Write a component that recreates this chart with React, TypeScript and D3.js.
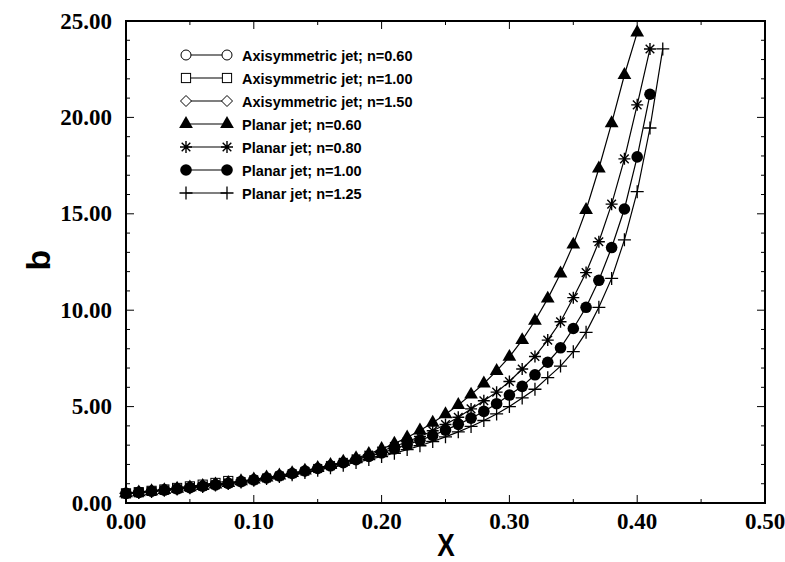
import React from 'react';
import * as d3 from 'd3';

// Axis ticks
const xMajorTicks = [0, 0.1, 0.2, 0.3, 0.4, 0.5];
const yMajorTicks = [0, 5, 10, 15, 20, 25];
const xMinorTicks = [0.05, 0.15, 0.25, 0.35, 0.45];
const yMinorTicks = [1, 2, 3, 4, 6, 7, 8, 9, 11, 12, 13, 14, 16, 17, 18, 19, 21, 22, 23, 24];

// Values of b sampled every 0.01 in X, starting at X = 0
const axi060 = [0.50, 0.56, 0.62, 0.69, 0.76, 0.84, 0.92, 1.01];
const axi100 = [0.50, 0.56, 0.63, 0.70, 0.78, 0.86, 0.95, 1.04, 1.14];
const axi150 = [0.50, 0.56, 0.62, 0.69, 0.77, 0.85, 0.93, 1.02];

const planar060 = [
  0.50, 0.55, 0.61, 0.67, 0.74, 0.81, 0.88, 0.96, 1.04, 1.13,
  1.22, 1.32, 1.43, 1.55, 1.68, 1.82, 1.97, 2.14, 2.32, 2.55,
  2.80, 3.08, 3.40, 3.76, 4.16, 4.60, 5.08, 5.62, 6.20, 6.85,
  7.58, 8.45, 9.45, 10.60, 11.90, 13.40, 15.20, 17.35, 19.70, 22.20,
  24.40,
];
const planar080 = [
  0.50, 0.55, 0.61, 0.67, 0.73, 0.80, 0.87, 0.95, 1.03, 1.11,
  1.20, 1.30, 1.40, 1.52, 1.65, 1.79, 1.94, 2.11, 2.29, 2.49,
  2.70, 2.93, 3.18, 3.45, 3.75, 4.07, 4.45, 4.88, 5.30, 5.75,
  6.30, 6.95, 7.60, 8.45, 9.40, 10.65, 11.95, 13.55, 15.50, 17.85,
  20.65, 23.55,
];
const planar100 = [
  0.50, 0.55, 0.61, 0.67, 0.73, 0.80, 0.87, 0.94, 1.02, 1.11,
  1.20, 1.30, 1.41, 1.53, 1.66, 1.79, 1.93, 2.09, 2.25, 2.42,
  2.60, 2.80, 3.02, 3.25, 3.50, 3.78, 4.08, 4.40, 4.75, 5.15,
  5.60, 6.05, 6.65, 7.30, 8.05, 9.05, 10.15, 11.55, 13.25, 15.25,
  17.95, 21.20,
];
const planar125 = [
  0.50, 0.55, 0.60, 0.66, 0.72, 0.79, 0.86, 0.93, 1.01, 1.09,
  1.18, 1.27, 1.37, 1.47, 1.58, 1.70, 1.83, 1.96, 2.10, 2.25,
  2.41, 2.58, 2.77, 2.97, 3.19, 3.43, 3.69, 3.97, 4.28, 4.62,
  5.00, 5.45, 5.90, 6.50, 7.10, 7.85, 8.85, 10.15, 11.65, 13.65,
  16.15, 19.45, 23.55,
];

const legendLabels = [
  'Axisymmetric jet; n=0.60',
  'Axisymmetric jet; n=1.00',
  'Axisymmetric jet; n=1.50',
  'Planar jet; n=0.60',
  'Planar jet; n=0.80',
  'Planar jet; n=1.00',
  'Planar jet; n=1.25',
];

type MarkerKind = 'openCircle' | 'openSquare' | 'openDiamond' | 'triangle' | 'asterisk' | 'dot' | 'plus';

const series: { values: number[]; marker: MarkerKind; label: string }[] = [
  { values: axi060, marker: 'openCircle', label: legendLabels[0] },
  { values: axi100, marker: 'openSquare', label: legendLabels[1] },
  { values: axi150, marker: 'openDiamond', label: legendLabels[2] },
  { values: planar060, marker: 'triangle', label: legendLabels[3] },
  { values: planar080, marker: 'asterisk', label: legendLabels[4] },
  { values: planar100, marker: 'dot', label: legendLabels[5] },
  { values: planar125, marker: 'plus', label: legendLabels[6] },
];

const X_STEP = 0.01;

const W = 785;
const H = 562;
const left = 126;
const right = 765;
const top = 21;
const bottom = 503;

const x = d3.scaleLinear().domain([0, 0.5]).range([left, right]);
const y = d3.scaleLinear().domain([0, 25]).range([bottom, top]);

const line = d3
  .line<[number, number]>()
  .x((d) => x(d[0]))
  .y((d) => y(d[1]));

const symPath = (type: d3.SymbolType, size: number) => d3.symbol().type(type).size(size)() as string;

function Marker({ kind, cx, cy }: { kind: MarkerKind; cx: number; cy: number }) {
  const t = `translate(${cx},${cy})`;
  switch (kind) {
    case 'openCircle':
      return <circle cx={cx} cy={cy} r={5} fill="#fff" stroke="#000" strokeWidth={1} />;
    case 'openSquare':
      return <rect x={cx - 4.6} y={cy - 4.6} width={9.2} height={9.2} fill="#fff" stroke="#000" strokeWidth={1} />;
    case 'openDiamond':
      return <path transform={t} d="M0,-5.5L5.5,0L0,5.5L-5.5,0Z" fill="#fff" stroke="#000" strokeWidth={1} />;
    case 'triangle':
      return <path transform={t} d={symPath(d3.symbolTriangle, 82)} fill="#000" />;
    case 'dot':
      return <circle cx={cx} cy={cy} r={5.8} fill="#000" />;
    case 'asterisk':
      return (
        <path
          transform={t}
          d="M0,-6V6M-6,0H6M-4.3,-4.3L4.3,4.3M-4.3,4.3L4.3,-4.3"
          stroke="#000"
          strokeWidth={1.4}
          fill="none"
        />
      );
    case 'plus':
      return <path transform={t} d="M0,-6.5V6.5M-6.5,0H6.5" stroke="#000" strokeWidth={1.3} fill="none" />;
  }
}

export default function App() {
  const legendX0 = 186;
  const legendX1 = 227;
  const legendY0 = 55;
  const legendDy = 23;

  return (
    <svg
      width={W}
      height={H}
      viewBox={`0 0 ${W} ${H}`}
      style={{ position: 'absolute', left: 0, top: 0, background: '#fff' }}
    >
      <rect x={0} y={0} width={W} height={H} fill="#fff" />

      {/* Ticks on all four sides, pointing inward */}
      <g stroke="#000" strokeWidth={1}>
        {xMajorTicks.map((t) => (
          <g key={`xm${t}`}>
            <line x1={x(t)} x2={x(t)} y1={bottom} y2={bottom - 8} />
            <line x1={x(t)} x2={x(t)} y1={top} y2={top + 8} />
          </g>
        ))}
        {xMinorTicks.map((t) => (
          <g key={`xn${t}`}>
            <line x1={x(t)} x2={x(t)} y1={bottom} y2={bottom - 4} />
            <line x1={x(t)} x2={x(t)} y1={top} y2={top + 4} />
          </g>
        ))}
        {yMajorTicks.map((t) => (
          <g key={`ym${t}`}>
            <line x1={left} x2={left + 8} y1={y(t)} y2={y(t)} />
            <line x1={right} x2={right - 8} y1={y(t)} y2={y(t)} />
          </g>
        ))}
        {yMinorTicks.map((t) => (
          <g key={`yn${t}`}>
            <line x1={left} x2={left + 4} y1={y(t)} y2={y(t)} />
            <line x1={right} x2={right - 4} y1={y(t)} y2={y(t)} />
          </g>
        ))}
      </g>

      {/* Plot frame */}
      <rect x={left} y={top} width={right - left} height={bottom - top} fill="none" stroke="#000" strokeWidth={2} />

      {/* Tick labels */}
      <g fontFamily="'Liberation Serif', 'Times New Roman', serif" fontWeight="bold" fontSize={23} fill="#000">
        {xMajorTicks.map((t) => (
          <text key={`xl${t}`} x={x(t)} y={529} textAnchor="middle">
            {t.toFixed(2)}
          </text>
        ))}
        {yMajorTicks.map((t) => (
          <text key={`yl${t}`} x={112} y={y(t) + 7.5} textAnchor="end">
            {t.toFixed(2)}
          </text>
        ))}
      </g>

      {/* Axis titles */}
      <text
        x={0}
        y={0}
        textAnchor="middle"
        fontFamily="'Liberation Sans', Arial, sans-serif"
        fontWeight="bold"
        fontSize={32}
        transform={`translate(446,556) scale(0.82,1)`}
      >
        X
      </text>
      <text
        x={0}
        y={0}
        textAnchor="middle"
        fontFamily="'Liberation Sans', Arial, sans-serif"
        fontWeight="bold"
        fontSize={34}
        transform={`translate(50,260) rotate(-90)`}
      >
        b
      </text>

      {/* Data series */}
      {series.map((s, si) => {
        const pts: [number, number][] = s.values.map((v, i) => [i * X_STEP, v]);
        return (
          <g key={`s${si}`}>
            <path d={line(pts) as string} fill="none" stroke="#000" strokeWidth={1.2} />
            {pts.map((p, i) => (
              <Marker key={i} kind={s.marker} cx={x(p[0])} cy={y(p[1])} />
            ))}
          </g>
        );
      })}

      {/* Legend */}
      <g>
        {series.map((s, i) => {
          const ly = legendY0 + i * legendDy;
          return (
            <g key={`lg${i}`}>
              <line x1={legendX0} x2={legendX1} y1={ly} y2={ly} stroke="#000" strokeWidth={1.2} />
              <Marker kind={s.marker} cx={legendX0} cy={ly} />
              <Marker kind={s.marker} cx={legendX1} cy={ly} />
              <text
                x={242}
                y={ly + 5.5}
                fontFamily="'Liberation Sans', Arial, sans-serif"
                fontWeight="bold"
                fontSize={14.5}
                fill="#000"
              >
                {s.label}
              </text>
            </g>
          );
        })}
      </g>
    </svg>
  );
}
